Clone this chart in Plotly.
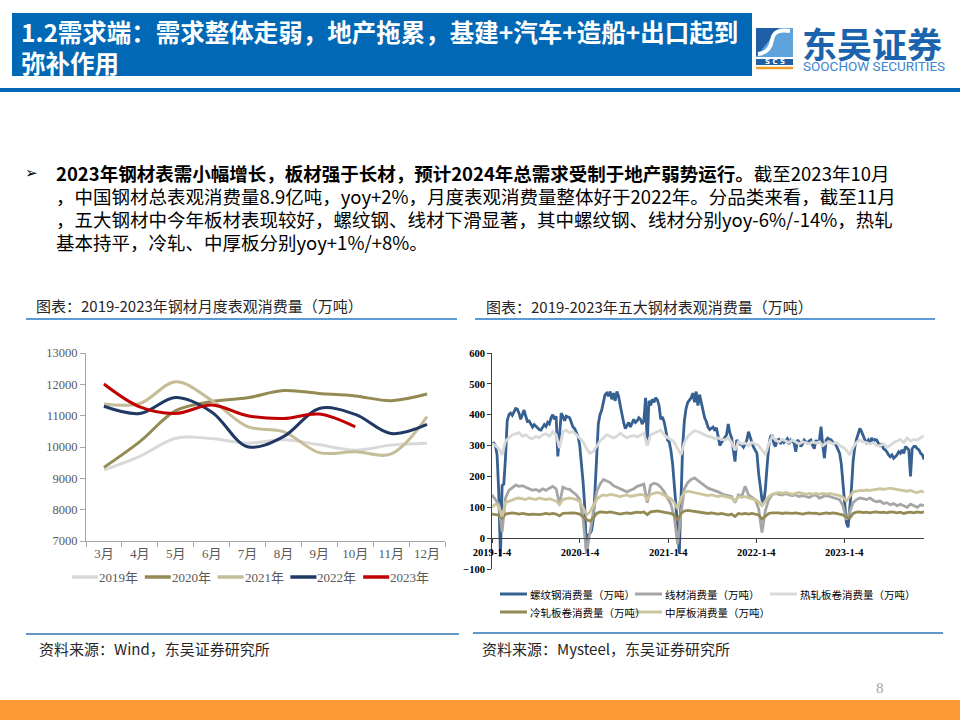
import plotly.graph_objects as go
import pandas as pd

W, H = 960, 720
def X(px): return px / W
def Y(py): return 1 - py / H

# ---------------- left chart data ----------------
months = ["3月", "4月", "5月", "6月", "7月", "8月", "9月", "10月", "11月", "12月"]
y2019 = [9270, 9700, 10280, 10270, 10120, 10230, 10070, 9900, 10060, 10120]
y2020 = [9350, 10170, 11160, 11450, 11570, 11800, 11710, 11630, 11480, 11690]
y2021 = [11370, 11390, 12080, 11490, 10650, 10490, 9820, 9850, 9780, 10970]
y2022 = [11300, 11070, 11580, 11120, 10010, 10330, 11230, 11040, 10430, 10720]
y2023 = [12010, 11280, 11070, 11340, 11000, 10910, 11050, 10640]

# ---------------- right chart data ----------------
weekly_dates = pd.date_range("2019-01-04", periods=257, freq="7D")
biweekly_dates = pd.date_range("2019-01-04", periods=129, freq="14D")

rebar_2019 = [305, 308, 300, 270, 150, -60, 170, 175, 260, 380,
              400, 405, 398, 410, 420, 418, 405, 385, 400, 415,
              395, 378, 380, 370, 360, 368, 362, 355, 352, 350,
              360, 368, 362, 375, 370, 390, 400, 385, 395, 265,
              330, 405, 395, 380, 395, 392, 390, 375, 360, 355,
              340, 330]
rebar_2020 = [300, 250, 180, 100, -50, 10, 15, 25, 60, 150,
              280, 370, 400, 415, 440, 465, 470, 460, 475, 450,
              470, 445, 475, 460, 430, 395, 375, 355, 365, 375,
              360, 370, 385, 375, 380, 390, 385, 370, 380, 455,
              300, 445, 430, 450, 440, 455, 448, 430, 385, 393,
              377, 350]
rebar_2021 = [318, 312, 285, 242, 178, 113, 38, -50, 100, 300,
              380, 420, 440, 450, 455, 470, 440, 475, 430, 465,
              440, 410, 390, 378, 360, 352, 355, 360, 348, 358,
              330, 300, 310, 320, 325, 335, 370, 340, 325, 290,
              248, 318, 310, 305, 302, 295, 305, 318, 345, 324,
              310, 295]
rebar_2022 = [285, 275, 210, 156, 124, 113, 160, 232, 297, 329,
              334, 307, 297, 318, 320, 305, 318, 310, 318, 322,
              305, 318, 312, 310, 280, 318, 312, 297, 305, 318,
              312, 308, 315, 318, 300, 290, 318, 307, 318, 361,
              300, 259, 318, 324, 320, 318, 310, 307, 300, 290,
              275, 240]
rebar_2023 = [180, 120, 50, 35, 90, 160, 250, 295, 320, 340,
              356, 345, 329, 318, 310, 318, 307, 325, 312, 320,
              318, 307, 297, 307, 290, 286, 280, 270, 264, 270,
              259, 264, 270, 280, 275, 286, 275, 297, 290, 286,
              200, 290, 297, 297, 290, 286, 275, 270, 255]
rebar = rebar_2019 + rebar_2020 + rebar_2021 + rebar_2022 + rebar_2023

wire = [140, 125, 110, 20, 130, 155, 165, 172, 168, 170,
        165, 160, 155, 158, 152, 160, 155, 162, 168, 160,
        110, 165, 160, 158, 150, 140, 125, 60, -50, 20,
        90, 150, 175, 190, 185, 180, 170, 165, 160, 155,
        150, 155, 160, 168, 172, 175, 115, 172, 178, 175,
        165, 150, 130, 110, 70, -20, 80, 160, 180, 190,
        195, 185, 178, 170, 162, 158, 155, 150, 145, 140,
        138, 135, 115, 140, 135, 168, 140, 132, 125, 95,
        18, 90, 125, 140, 145, 142, 140, 145, 140, 138,
        140, 135, 138, 135, 132, 138, 140, 130, 135, 138,
        135, 132, 130, 125, 105, 60, 85, 115, 125, 130,
        128, 125, 130, 122, 118, 120, 112, 115, 108, 112,
        105, 110, 105, 100, 110, 105, 100, 108, 105]
hot = [307, 300, 290, 270, 315, 325, 335, 338, 342, 330,
       335, 325, 322, 330, 325, 335, 338, 330, 345, 335,
       292, 345, 350, 342, 345, 335, 325, 312, 290, 275,
       280, 300, 315, 325, 335, 330, 325, 330, 340, 332,
       325, 330, 332, 328, 335, 340, 300, 335, 340, 345,
       350, 335, 325, 320, 310, 290, 270, 310, 330, 340,
       348, 345, 340, 335, 330, 328, 322, 325, 320, 318,
       325, 310, 285, 312, 305, 308, 300, 310, 305, 300,
       285, 270, 305, 330, 318, 312, 320, 315, 310, 318,
       312, 305, 312, 310, 305, 312, 308, 312, 300, 308,
       312, 305, 310, 300, 295, 285, 270, 295, 310, 318,
       312, 310, 305, 310, 300, 300, 305, 295, 300, 310,
       315, 320, 310, 325, 315, 320, 318, 325, 332]
cold = [78, 76, 75, 65, 78, 80, 82, 80, 78, 80,
        78, 76, 78, 77, 76, 78, 80, 78, 80, 78,
        72, 80, 81, 80, 82, 80, 78, 70, 60, 55,
        65, 80, 85, 84, 83, 85, 82, 80, 78, 80,
        82, 80, 82, 84, 83, 85, 76, 85, 87, 88,
        86, 85, 82, 80, 75, 58, 80, 88, 90, 88,
        86, 85, 84, 82, 80, 82, 80, 78, 80, 78,
        75, 78, 70, 80, 78, 80, 78, 80, 78, 75,
        62, 72, 80, 82, 83, 82, 80, 82, 81, 80,
        82, 80, 78, 80, 82, 80, 81, 78, 80, 82,
        80, 82, 80, 78, 75, 68, 65, 80, 84, 85,
        83, 84, 82, 84, 85, 83, 84, 82, 85, 84,
        82, 84, 80, 83, 84, 82, 85, 83, 85]
plate = [100, 110, 105, 70, 115, 120, 125, 128, 130, 128,
         125, 130, 128, 125, 130, 128, 125, 128, 125, 120,
         108, 125, 128, 130, 128, 125, 118, 100, 75, 85,
         105, 125, 135, 140, 138, 142, 140, 138, 135, 138,
         140, 135, 138, 140, 142, 140, 125, 142, 145, 148,
         145, 140, 135, 128, 115, 95, 130, 148, 152, 150,
         148, 145, 142, 140, 138, 140, 138, 135, 138, 135,
         132, 130, 120, 135, 132, 135, 130, 128, 125, 118,
         105, 120, 135, 142, 145, 148, 145, 148, 145, 142,
         145, 148, 145, 142, 145, 143, 145, 142, 145, 143,
         145, 142, 140, 138, 132, 120, 135, 150, 152, 155,
         154, 156, 155, 157, 158, 160, 158, 160, 162, 160,
         158, 156, 155, 152, 155, 150, 148, 152, 150]

year_ticks = ["2019-01-04", "2020-01-04", "2021-01-04", "2022-01-04", "2023-01-04"]
year_tick_text = ["2019-1-4", "2020-1-4", "2021-1-4", "2022-1-4", "2023-1-4"]

CJK = "Noto Sans CJK SC"
SERIF = "Liberation Serif, Noto Sans CJK SC"

fig = go.Figure()

left_series = [("2019年", y2019, "#d9d9d9"), ("2020年", y2020, "#948a54"),
               ("2021年", y2021, "#c4bd97"), ("2022年", y2022, "#1f3864"),
               ("2023年", y2023, "#c00000")]
for name, vals, col in left_series:
    fig.add_trace(go.Scatter(x=months[:len(vals)], y=vals, name=name, mode="lines",
                             line=dict(color=col, width=3, shape="spline", smoothing=1.0),
                             xaxis="x", yaxis="y", showlegend=False))

right_series = [("螺纹钢消费量（万吨）", weekly_dates, rebar, "#376092"),
                ("线材消费量（万吨）", biweekly_dates, wire, "#a6a6a6"),
                ("热轧板卷消费量（万吨）", biweekly_dates, hot, "#d9d9d9"),
                ("冷轧板卷消费量（万吨）", biweekly_dates, cold, "#948a54"),
                ("中厚板消费量（万吨）", biweekly_dates, plate, "#cdc59e")]
for name, xs, vals, col in right_series:
    fig.add_trace(go.Scatter(x=xs, y=vals, name=name, mode="lines",
                             line=dict(color=col, width=2.8),
                             xaxis="x2", yaxis="y2", showlegend=False))

ly0, ly1 = Y(541), Y(353)
ry0, ry1 = Y(569), Y(353)
yr = [-100, 600]
x2_pos = ry0 + (0 - yr[0]) / (yr[1] - yr[0]) * (ry1 - ry0)

fig.update_layout(
    width=W, height=H, margin=dict(l=0, r=0, t=0, b=0, pad=0, autoexpand=False),
    paper_bgcolor="white", plot_bgcolor="rgba(0,0,0,0)", showlegend=False,
    xaxis=dict(domain=[X(86), X(445)], type="category", anchor="y", range=[-0.5, 9.5],
               automargin=False,
               showline=True, linecolor="#a6a6a6", ticks="outside", tickson="boundaries",
               ticklen=5, tickcolor="#a6a6a6", showgrid=False,
               tickfont=dict(family=SERIF, size=13, color="#595959")),
    yaxis=dict(domain=[ly0, ly1], range=[7000, 13000], dtick=1000, tickformat="d",
               automargin=False,
               showline=True, linecolor="#a6a6a6", ticks="outside", ticklen=5,
               tickcolor="#a6a6a6", showgrid=False, zeroline=False,
               tickfont=dict(family=SERIF, size=12.5, color="#595959")),
    xaxis2=dict(domain=[X(492), X(924)], type="date", anchor="free", position=x2_pos,
                automargin=False,
                range=[weekly_dates[0], weekly_dates[-1]],
                tickvals=year_ticks, ticktext=year_tick_text,
                showline=True, linecolor="#404040", linewidth=1, ticks="outside", ticklen=4,
                tickcolor="#404040", showgrid=False, zeroline=False,
                tickfont=dict(family="Liberation Serif", size=10.5, color="#000000", weight="bold")),
    yaxis2=dict(domain=[ry0, ry1], range=yr, dtick=100, anchor="x2", automargin=False,
                showline=True, linecolor="#404040", ticks="outside", ticklen=4,
                tickcolor="#404040", showgrid=False, zeroline=False,
                tickfont=dict(family="Liberation Serif", size=10.5, color="#000000", weight="bold")),
)

shapes = []
annotations = []

def rect(x0, y0, x1, y1, color):
    shapes.append(dict(type="rect", xref="paper", yref="paper", x0=X(x0), x1=X(x1),
                       y0=Y(y1), y1=Y(y0), fillcolor=color, line=dict(width=0), layer="below"))
def hline(x0, x1, y, color, width):
    shapes.append(dict(type="line", xref="paper", yref="paper", x0=X(x0), x1=X(x1),
                       y0=Y(y), y1=Y(y), line=dict(color=color, width=width)))
def path(cmds, fill=None, stroke=None, width=0):
    segs = []
    for cmd, pts in cmds:
        segs.append(cmd + " " + " ".join(f"{X(px)},{Y(py)}" for px, py in pts))
    shapes.append(dict(type="path", xref="paper", yref="paper", path=" ".join(segs),
                       fillcolor=fill if fill else "rgba(0,0,0,0)",
                       line=dict(color=stroke if stroke else "rgba(0,0,0,0)", width=width)))
def text(x, y, s, size, color="#000000", family=CJK, xanchor="left", weight="normal"):
    annotations.append(dict(xref="paper", yref="paper", x=X(x), y=Y(y), text=s,
                            showarrow=False, xanchor=xanchor, yanchor="middle",
                            borderpad=0,
                            font=dict(family=family, size=size, color=color, weight=weight)))

# frame pieces
rect(12, 13, 752, 76, "#0068b5")
rect(0, 88, 960, 92, "#0068b5")
rect(0, 700, 960, 720, "#ff9933")
hline(26, 457, 319, "#5b9bd5", 2)
hline(475, 935, 319, "#5b9bd5", 2)
hline(26, 459, 634, "#2e75b6", 1.5)
hline(473, 943, 633, "#2e75b6", 1.5)

# logo icon
rect(756, 28, 793, 57, "#5ea3dc")
path([("M", [(756, 28)]), ("L", [(779, 28)]), ("L", [(756, 57)]), ("Z", [])], fill="#1f5fa8")
path([("M", [(790, 31)]), ("Q", [(774, 28), (772, 40)]), ("Q", [(770, 53), (758, 54)])],
     stroke="white", width=4)
rect(756, 59, 793, 65, "#1f5fa8")
text(774.5, 62, "S C S", 7, "white", family="DejaVu Sans", xanchor="center", weight="bold")
hline(756, 793, 68, "#f39a2b", 2.5)
text(801, 42, "东吴证券", 35, "#1b64ad", weight="bold")
text(802, 66, "SOOCHOW SECURITIES", 13.5, "#3a86cf", family="Roboto")

# headline
text(20, 32, "1.2需求端：需求整体走弱，地产拖累，基建+汽车+造船+出口起到", 24.5, "white", weight="bold")
text(20, 62, "弥补作用", 24.5, "white", weight="bold")

text(24, 173, "➢", 15, "#000000", family="DejaVu Sans")
body = ["<b>2023年钢材表需小幅增长，板材强于长材，预计2024年总需求受制于地产弱势运行。</b>截至2023年10月",
        "，中国钢材总表观消费量8.9亿吨，yoy+2%，月度表观消费量整体好于2022年。分品类来看，截至11月",
        "，五大钢材中今年板材表现较好，螺纹钢、线材下滑显著，其中螺纹钢、线材分别yoy-6%/-14%，热轧",
        "基本持平，冷轧、中厚板分别yoy+1%/+8%。"]
for i, s in enumerate(body):
    text(55, 173 + 23 * i, s, 18.5, "#000000")

text(35, 305, "图表：2019-2023年钢材月度表观消费量（万吨）", 15, "#262626")
text(485, 306, "图表：2019-2023年五大钢材表观消费量（万吨）", 15, "#262626")
text(38, 648, "资料来源：Wind，东吴证券研究所", 15, "#262626")
text(481, 648, "资料来源：Mysteel，东吴证券研究所", 15, "#262626")
text(880, 688, "8", 15, "#a6a6a6", family="Liberation Serif", xanchor="center")

# legends (drawn as keys + labels)
for i, (name, _, col) in enumerate(left_series):
    x0 = 72 + 72.8 * i
    hline(x0, x0 + 26, 577, col, 3.5)
    text(x0 + 26, 577, name, 13, "#595959", family=SERIF)

right_slots = [(500, 594), (635, 594), (770, 594), (500, 612), (635, 612)]
for (x0, y0), (name, _, _, col) in zip(right_slots, right_series):
    hline(x0, x0 + 27, y0, col, 3)
    text(x0 + 29, y0, name, 10.5, "#000000", family=CJK)

fig.update_layout(shapes=shapes, annotations=annotations)
fig.write_html("out.html", config={"displayModeBar": False},
               post_script="document.body.style.margin='0px';document.body.style.overflow='hidden';")
